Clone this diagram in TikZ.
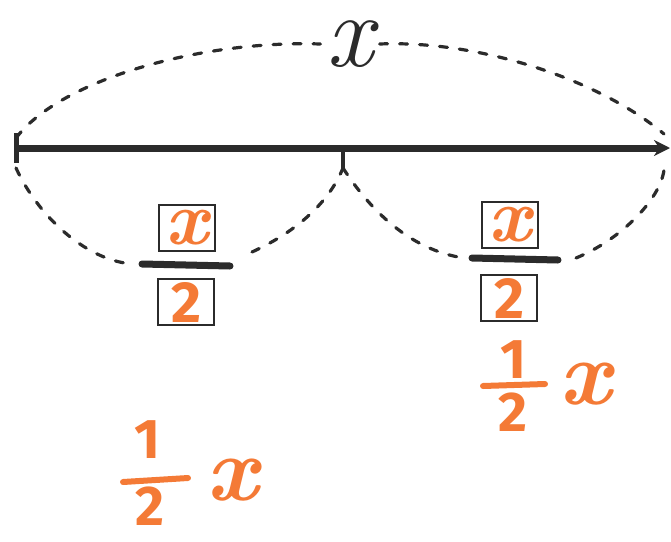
\documentclass[tikz,border=0pt]{standalone}
\usepackage{fontspec}
\setsansfont{Fira Sans}
\usetikzlibrary{arrows.meta}
\definecolor{ink}{HTML}{2B2B2B}
\definecolor{marker}{HTML}{F47A36}
\tikzset{
  dashline/.style={ink, line width=3.2pt, dash pattern=on 8pt off 12pt, line cap=round},
  box/.style={draw=ink, line width=1.8pt, minimum width=56pt, minimum height=46pt, inner sep=0pt, text=marker, font=\fontsize{58}{58}\selectfont\bfseries\sffamily},
  boxx/.style={box, font=\fontsize{76}{76}\selectfont\rmfamily\bfseries\itshape},
  fracbar/.style={ink, line width=7pt, line cap=round},
  orangebar/.style={marker, line width=6pt, line cap=round},
  orangetxt/.style={text=marker, inner sep=0pt, font=\fontsize{56}{56}\selectfont\bfseries\sffamily},
  orangex/.style={text=marker, inner sep=0pt, font=\fontsize{92}{92}\selectfont\rmfamily\bfseries\itshape}
}
\begin{document}
\begin{tikzpicture}[x=1pt,y=-1pt]
\useasboundingbox (0,0) rectangle (671,541);
% main line
\coordinate (L) at (14,148);
\coordinate (R) at (670,148);
\coordinate (M) at (343,148);
\coordinate (Mb) at (343,168);
\coordinate (Lt) at (16,138);
\coordinate (Lb) at (16,168);
\coordinate (Rt) at (664,134);
\coordinate (Rb) at (664,170);
\draw[ink, line width=7pt, {Bar[width=30pt,line width=5pt]}-{Stealth[length=16pt,width=16pt]}] (L) -- (R);
\draw[ink, line width=3.5pt] (M) -- (Mb);
% top label
\node[text=ink, inner sep=0pt, font=\fontsize{104}{104}\selectfont\itshape] (xlab) at (350,44) {x};
\draw[dashline] (Lt) .. controls (60,80) and (200,40) .. ([xshift=-6pt]xlab.west);
\draw[dashline] ([xshift=6pt]xlab.east) .. controls (480,40) and (600,80) .. (Rt);
% left fraction
\node[boxx] (ln) at (187,228) {x};
\node[box] (ld) at (186,302) {2};
\coordinate (lbw) at (142,264);
\coordinate (lbe) at (230,266);
\coordinate (lsr) at (252,252);
\draw[fracbar] (lbw) -- (lbe);
\draw[dashline] (Lb) .. controls (40,220) and (90,262) .. ([xshift=-8pt]lbw);
\draw[dashline] (lsr) .. controls (300,230) and (330,200) .. (Mb);
% right fraction
\node[boxx] (rn) at (510,225) {x};
\node[box] (rd) at (509,298) {2};
\coordinate (rbw) at (472,258);
\coordinate (rbe) at (558,260);
\coordinate (rsr) at (576,258);
\draw[fracbar] (rbw) -- (rbe);
\draw[dashline] (Mb) .. controls (370,210) and (410,250) .. ([xshift=-8pt]rbw);
\draw[dashline] (rsr) .. controls (620,240) and (660,200) .. (Rb);
% right 1/2 x
\node[orangetxt] (r1) at (513,360) {1};
\node[orangetxt] (r2) at (513,412) {2};
\coordinate (robw) at (483,386);
\coordinate (robe) at (545,384);
\draw[orangebar] (robw) -- (robe);
\node[orangex] (rx) at (585,384) {x};
% left 1/2 x
\node[orangetxt] (l1) at (147,440) {1};
\node[orangetxt] (l2) at (150,506) {2};
\coordinate (lobw) at (123,482);
\coordinate (lobe) at (188,478);
\draw[orangebar] (lobw) -- (lobe);
\node[orangex] (lx) at (232,480) {x};
\end{tikzpicture}
\end{document}
